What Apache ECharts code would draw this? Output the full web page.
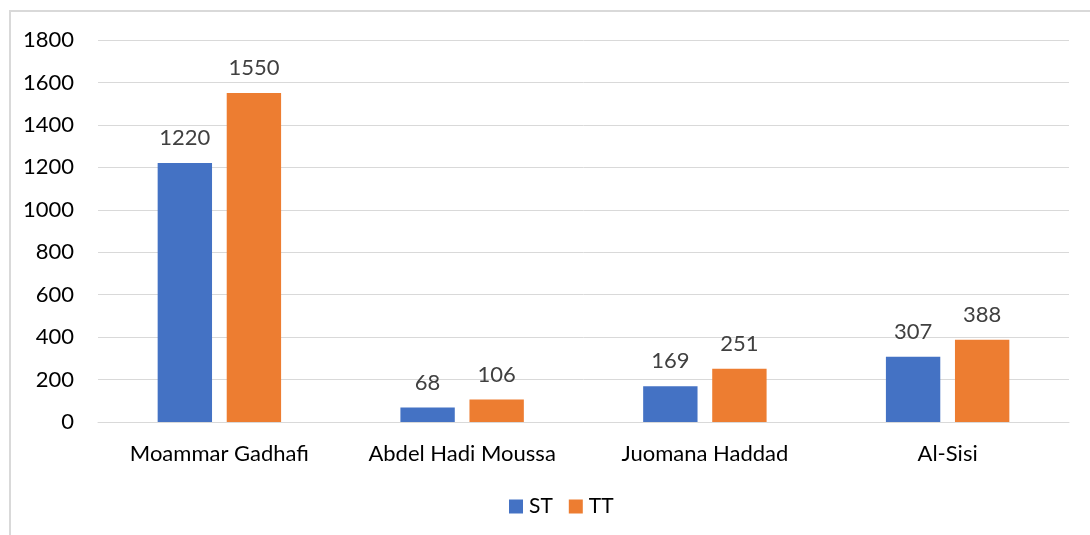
<!DOCTYPE html>
<html>
<head>
<meta charset="utf-8">
<script src="https://cdn.jsdelivr.net/npm/echarts@6/dist/echarts.min.js"></script>
<style>
  html, body { margin: 0; padding: 0; background: #fff; }
  #chart { width: 1090px; height: 535px; }
</style>
</head>
<body>
<div id="chart"></div>
<script>
// Names and counts per person
const categories = ['Moammar Gadhafi', 'Abdel Hadi Moussa', 'Juomana Haddad', 'Al-Sisi'];
const stValues = [1220, 68, 169, 307];
const ttValues = [1550, 106, 251, 388];
const seriesNames = ['ST', 'TT'];

const FONT = 'Lato, "Open Sans", sans-serif';
const SIZE = 22;

const chart = echarts.init(document.getElementById('chart'), null, { renderer: 'canvas' });

const labelStyle = {
  show: true,
  position: 'top',
  distance: 14,
  color: '#404040',
  fontSize: SIZE,
  fontFamily: FONT
};

chart.setOption({
  animation: false,
  backgroundColor: '#ffffff',
  graphic: [{
    type: 'rect',
    shape: { x: 10, y: 11, width: 1200, height: 700 },
    style: { fill: 'none', stroke: '#d9d9d9', lineWidth: 2 },
    silent: true
  }],
  grid: { left: 98, right: 21, top: 40, bottom: 113, containLabel: false },
  legend: {
    data: seriesNames,
    bottom: 13,
    left: 504,
    itemWidth: 14,
    itemHeight: 14,
    itemGap: 16,
    icon: 'rect',
    textStyle: { fontSize: 21, color: '#000', fontFamily: FONT, padding: [0, 0, 0, 1] }
  },
  xAxis: {
    type: 'category',
    data: categories,
    axisLine: { show: true, lineStyle: { color: '#d9d9d9', width: 1 } },
    axisTick: { show: false },
    axisLabel: { interval: 0, fontSize: SIZE, color: '#000', fontFamily: FONT, margin: 21 }
  },
  yAxis: {
    type: 'value',
    min: 0,
    max: 1800,
    interval: 200,
    axisLine: { show: false },
    axisTick: { show: false },
    splitLine: { lineStyle: { color: '#d9d9d9', width: 1 } },
    axisLabel: { fontSize: SIZE, color: '#000', fontFamily: FONT, margin: 24, formatter: v => String(v) }
  },
  series: [
    {
      name: seriesNames[0],
      type: 'bar',
      data: stValues,
      barWidth: '22.4%',
      barGap: '27%',
      itemStyle: { color: '#4472C4' },
      label: labelStyle
    },
    {
      name: seriesNames[1],
      type: 'bar',
      data: ttValues,
      barWidth: '22.4%',
      barGap: '27%',
      itemStyle: { color: '#ED7D31' },
      label: labelStyle
    }
  ]
});
</script>
</body>
</html>
